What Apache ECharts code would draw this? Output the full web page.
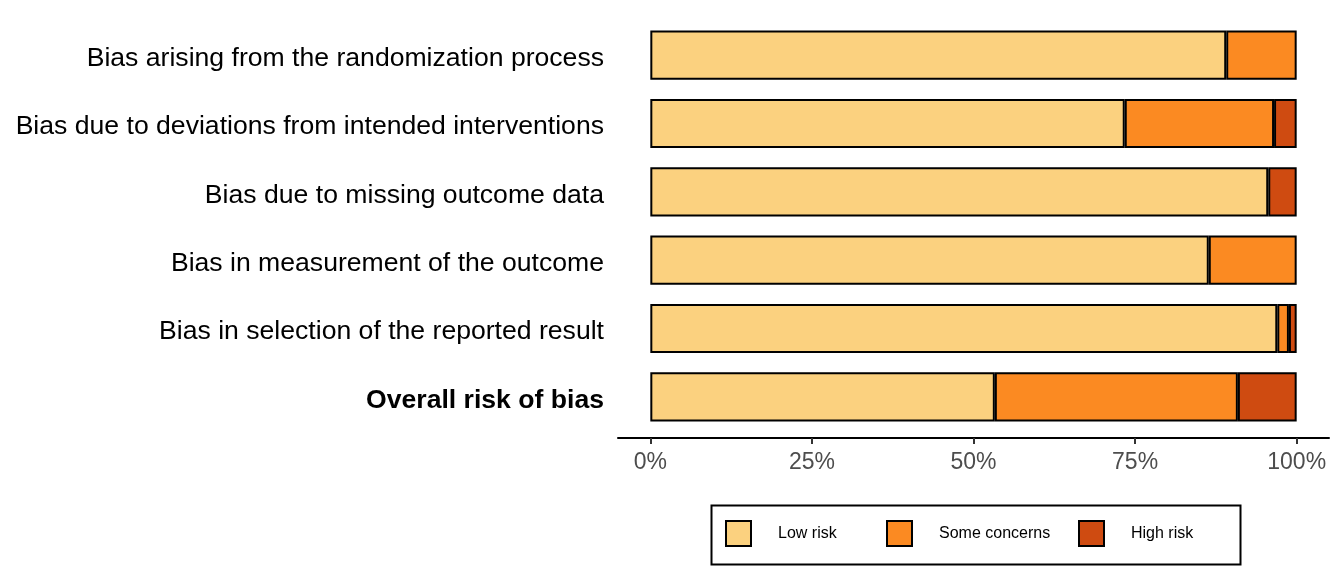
<!DOCTYPE html>
<html>
<head>
<meta charset="utf-8">
<script src="https://cdn.jsdelivr.net/npm/echarts@6/dist/echarts.min.js"></script>
<style>
  html, body { margin: 0; padding: 0; background: #fff; }
  #chart { width: 1344px; height: 576px; }
</style>
</head>
<body>
<div id="chart"></div>
<script>
// -----------------------------------------------------------------------------
// Data
// -----------------------------------------------------------------------------
const domains = [
  "Bias arising from the randomization process",
  "Bias due to deviations from intended interventions",
  "Bias due to missing outcome data",
  "Bias in measurement of the outcome",
  "Bias in selection of the reported result",
  "Overall risk of bias",
];
const lowRisk = [89.1, 73.4, 95.6, 86.4, 97.0, 53.3];
const someConcerns = [10.9, 23.1, 0, 13.6, 1.8, 37.6];
const highRisk = [0, 3.5, 4.4, 0, 1.2, 9.1];
const tickValues = [0, 25, 50, 75, 100];

const judgements = [
  { name: "Low risk", values: lowRisk, color: "#FBD17F" },
  { name: "Some concerns", values: someConcerns, color: "#FB8A22" },
  { name: "High risk", values: highRisk, color: "#CF4B11" },
];

const FONT = "'Liberation Sans', Arial, Helvetica, sans-serif";

// -----------------------------------------------------------------------------
// Chart
// -----------------------------------------------------------------------------
const myChart = echarts.init(document.getElementById("chart"), null, {
  renderer: "canvas",
});

const legendLefts = [725, 886, 1078];

const option = {
  backgroundColor: "#ffffff",
  animation: false,
  grid: { left: 618, right: 15, top: 21, height: 410 },
  xAxis: {
    type: "value",
    min: -5,
    max: 105,
    offset: 7,
    splitLine: { show: false },
    axisLine: { show: true, lineStyle: { color: "#000", width: 2 } },
    axisTick: {
      show: true,
      length: 6,
      customValues: tickValues,
      lineStyle: { color: "#333", width: 2 },
    },
    axisLabel: {
      customValues: tickValues,
      formatter: (v) => `${v}%`,
      color: "#4D4D4D",
      fontSize: 23,
      fontFamily: FONT,
      margin: 13,
    },
  },
  yAxis: {
    type: "category",
    inverse: true,
    data: domains,
    axisLine: { show: false },
    axisTick: { show: false },
    axisLabel: {
      margin: 14,
      color: "#000",
      fontSize: 26.6,
      fontFamily: FONT,
      padding: [7, 0, 0, 0],
      formatter: (v, i) => (i === domains.length - 1 ? `{b|${v}}` : v),
      rich: {
        b: { fontWeight: "bold", fontSize: 26.6, fontFamily: FONT, color: "#000" },
      },
    },
  },
  legend: judgements.map((j, i) => ({
    data: [j.name],
    left: legendLefts[i],
    top: 520,
    padding: 0,
    itemWidth: 25,
    itemHeight: 25,
    icon: "rect",
    selectedMode: false,
    itemStyle: { borderColor: "#000", borderWidth: 2 },
    textStyle: {
      color: "#000",
      fontSize: 16,
      fontFamily: FONT,
      padding: [0, 0, 0, 22],
    },
  })),
  graphic: [
    {
      type: "rect",
      left: 709,
      top: 503,
      shape: { width: 529, height: 59 },
      style: { fill: "none", stroke: "#000", lineWidth: 2 },
    },
  ],
  series: judgements.map((j) => ({
    name: j.name,
    type: "bar",
    stack: "rob",
    barWidth: "72%",
    data: j.values.map((v) => (v > 0 ? v : null)),
    itemStyle: { color: j.color, borderColor: "#000", borderWidth: 2 },
    emphasis: { disabled: true },
  })),
};

myChart.setOption(option);
</script>
</body>
</html>
